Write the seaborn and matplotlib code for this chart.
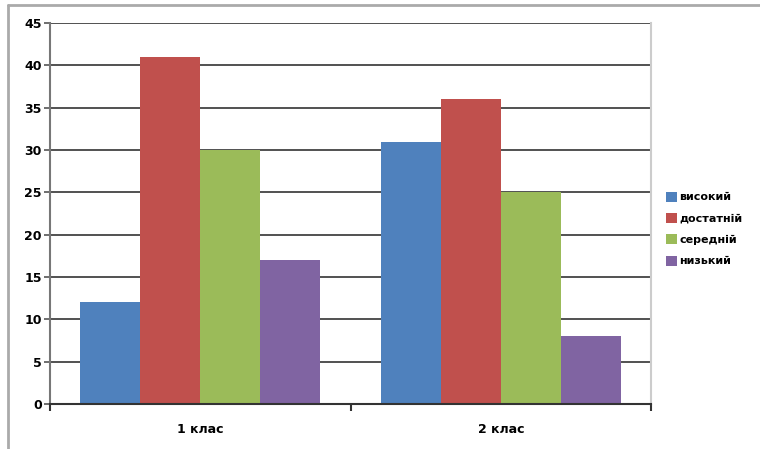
import matplotlib
matplotlib.use("Agg")
import matplotlib.pyplot as plt
import matplotlib.lines as mlines
import seaborn as sns
import pandas as pd

categories = ["1 клас", "2 клас"]
levels = ["високий", "достатній", "середній", "низький"]
values_1 = [12, 41, 30, 17]
values_2 = [31, 36, 25, 8]
colors = ["#4F81BD", "#C0504D", "#9BBB59", "#8064A2"]
y_ticks = list(range(0, 50, 5))

rows = []
for cat, vals in zip(categories, [values_1, values_2]):
    for lev, v in zip(levels, vals):
        rows.append({"cat": cat, "level": lev, "value": v})
df = pd.DataFrame(rows)

sns.set_theme(style="white")
plt.rcParams["font.family"] = ["DejaVu Sans"]
plt.rcParams["text.color"] = "black"

fig = plt.figure(figsize=(7.6, 4.49), dpi=100)
ax = fig.add_axes([50 / 760, 1 - 404 / 449, 601 / 760, 381 / 449])

sns.barplot(data=df, x="cat", y="value", hue="level", order=categories,
            hue_order=levels, palette=colors, width=0.8, gap=0,
            saturation=1, ax=ax, linewidth=0, legend=True)

ax.set_ylim(0, 45)
ax.set_xlim(-0.5, 1.5)
ax.set_yticks(y_ticks)
ax.set_yticklabels([str(t) for t in y_ticks], fontsize=9, fontweight="bold", color="black")
ax.yaxis.grid(True, color="#333333", linewidth=1.2)
ax.set_axisbelow(True)
ax.set_xlabel("")
ax.set_ylabel("")
ax.set_xticks([0, 1])
ax.set_xticklabels(categories, fontsize=9, fontweight="bold", color="black")
ax.set_xticks([-0.5, 0.5, 1.5], minor=True)
ax.tick_params(axis="x", which="major", length=0, pad=14)
ax.tick_params(axis="x", which="minor", length=5, width=1.5, color="#333333", direction="out", bottom=True)
ax.tick_params(axis="y", length=4, width=1.2, color="#555555", direction="out", left=True, pad=2)

ax.spines["top"].set_visible(False)
ax.spines["right"].set_color("#cccccc")
ax.spines["right"].set_linewidth(1.5)
ax.spines["left"].set_color("#777777")
ax.spines["left"].set_linewidth(1.5)
ax.spines["bottom"].set_color("#333333")
ax.spines["bottom"].set_linewidth(1.5)

leg = ax.legend(loc="center left", bbox_to_anchor=(666 / 760, 1 - 229 / 449),
                bbox_transform=fig.transFigure, frameon=False,
                prop={"size": 8, "weight": "bold"}, handlelength=1.0,
                handleheight=1.0, handletextpad=0.2, labelspacing=0.95,
                borderaxespad=0, borderpad=0)
for t in leg.get_texts():
    t.set_color("black")

# outer chart border (top and left edges visible)
fig.add_artist(mlines.Line2D([8 / 760, 1], [1 - 5 / 449, 1 - 5 / 449],
                             transform=fig.transFigure, color="#aaaaaa", linewidth=2))
fig.add_artist(mlines.Line2D([8 / 760, 8 / 760], [0, 1 - 5 / 449],
                             transform=fig.transFigure, color="#aaaaaa", linewidth=2))

fig.savefig("out.png", dpi=100)
